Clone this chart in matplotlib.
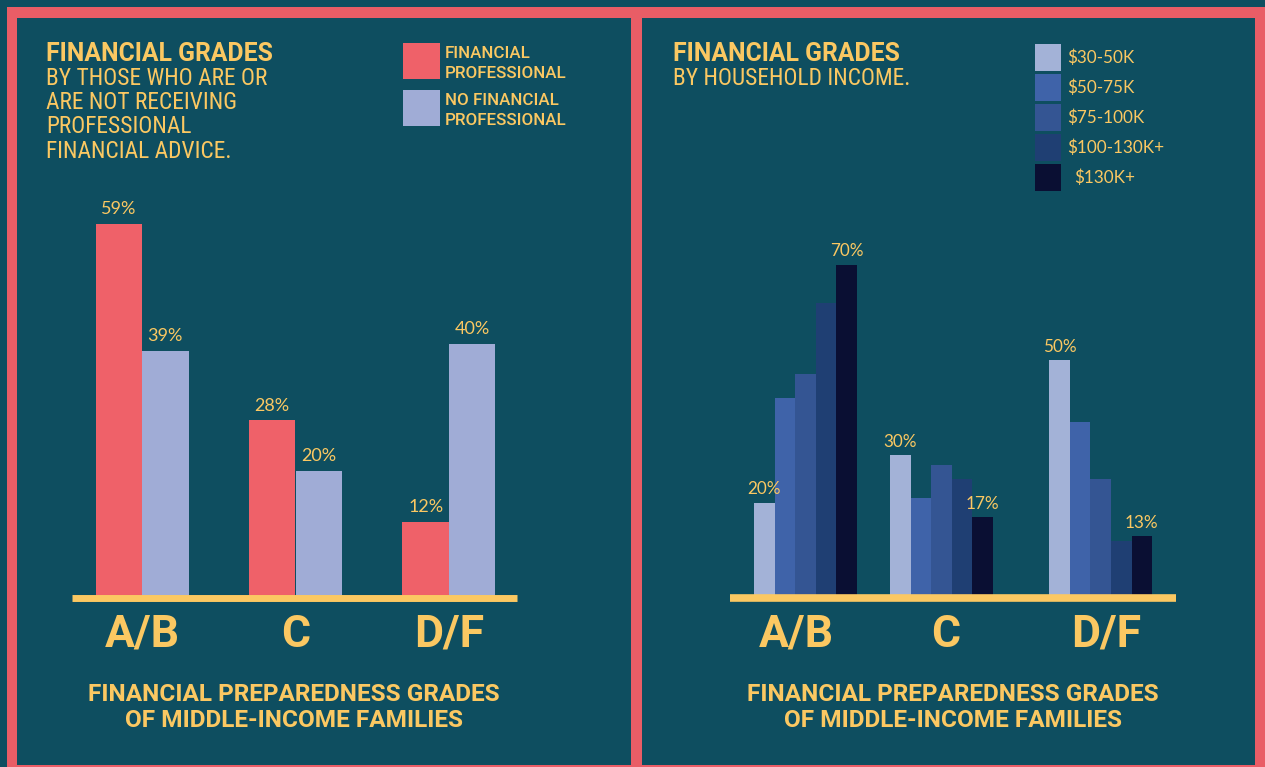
import matplotlib.pyplot as plt
import numpy as np
from matplotlib.patches import Rectangle

# data
grades = ["A/B", "C", "D/F"]
with_pro = [59, 28, 12]
no_pro = [39, 20, 40]
pro_labels = ["FINANCIAL\nPROFESSIONAL", "NO FINANCIAL\nPROFESSIONAL"]

income_groups = ["$30-50K", "$50-75K", "$75-100K", "$100-130K+", "$130K+"]
income_vals = [
    [20, 30, 50],  # $30-50K
    [42, 21, 37],  # $50-75K
    [47, 28, 25],  # $75-100K
    [62, 25, 12],  # $100-130K+
    [70, 17, 13],  # $130K+
]

# style
BG = "#0e4e60"
PINK = "#e95d66"
YELLOW = "#fbc862"
bar_pink = "#ef6169"
bar_lav = "#a0acd6"
income_colors = ["#a3b2d7", "#3f63a9", "#345593", "#1f3f73", "#0a0f33"]

ROUND = ["Lato", "DejaVu Sans"]
CK = dict(family=["Roboto Condensed", "DejaVu Sans"], fontstretch="condensed")
RB = dict(family=["Roboto", "DejaVu Sans"])

W, H = 1265, 767
fig = plt.figure(figsize=(W / 100, H / 100), dpi=100)
fig.patch.set_facecolor(BG)

# background axes in pixel coords for frame + titles
bg = fig.add_axes([0, 0, 1, 1])
bg.set_xlim(0, W)
bg.set_ylim(H, 0)
bg.axis("off")
for (x, y, w, h) in [(7, 7, W - 7, 11), (7, 7, 10, H - 7), (631, 7, 11, H - 7),
                     (1255, 7, 10, H - 7), (7, 765, W - 7, 2)]:
    bg.add_patch(Rectangle((x, y), w, h, color=PINK, lw=0))

# left header
bg.text(46, 61, "FINANCIAL GRADES", color=YELLOW, fontsize=17.8, fontweight="bold",
        va="baseline", **RB)
sub = ["BY THOSE WHO ARE OR", "ARE NOT RECEIVING", "PROFESSIONAL", "FINANCIAL ADVICE."]
for i, s in enumerate(sub):
    bg.text(46, 85 + i * 24.2, s, color=YELLOW, fontsize=16.8, va="baseline", **CK)

# left legend
for i, (lab, c) in enumerate(zip(pro_labels, [bar_pink, bar_lav])):
    y0 = 43 + i * 47
    bg.add_patch(Rectangle((403, y0), 37, 36, color=c, lw=0))
    l1, l2 = lab.split("\n")
    bg.text(445, y0 + 15, l1, color=YELLOW, fontsize=12.2, fontweight="medium",
            va="baseline", **RB)
    bg.text(445, y0 + 35, l2, color=YELLOW, fontsize=12.2, fontweight="medium",
            va="baseline", **RB)

# right header
bg.text(673, 61, "FINANCIAL GRADES", color=YELLOW, fontsize=17.8, fontweight="bold",
        va="baseline", **RB)
bg.text(673, 85, "BY HOUSEHOLD INCOME.", color=YELLOW, fontsize=16.8, va="baseline", **CK)

# right legend
for i, (lab, c) in enumerate(zip(income_groups, income_colors)):
    y0 = 44 + i * 30
    bg.add_patch(Rectangle((1035, y0), 26, 27, color=c, lw=0))
    tx = 1074 if i == len(income_groups) - 1 else 1067
    bg.text(tx, y0 + 14, lab, color=YELLOW, fontsize=12.3, family=ROUND, va="center")

# bottom captions
for cx in (294, 953):
    bg.text(cx, 700.7, "FINANCIAL PREPAREDNESS GRADES", color=YELLOW, fontsize=17.6,
            fontweight="bold", ha="center", va="baseline", **RB)
    bg.text(cx, 727, "OF MIDDLE-INCOME FAMILIES", color=YELLOW, fontsize=17.6,
            fontweight="bold", ha="center", va="baseline", **RB)


def make_axes(x0, x1, y_base, top_px):
    ax = fig.add_axes([x0 / W, (H - y_base) / H, (x1 - x0) / W, (y_base - top_px) / H])
    ax.set_facecolor("none")
    ax.axis("off")
    return ax


# left chart: 6.34 px per %, group spacing 153.5 px
axL = make_axes(72, 517, 598, 150)
axL.set_ylim(0, 448 / 6.34)
axL.set_xlim((72 - 142) / 153.5, (517 - 142) / 153.5)
x = np.arange(len(grades))
bw = 46.5 / 153.5
b1 = axL.bar(x - bw / 2, with_pro, bw, color=bar_pink, lw=0)
b2 = axL.bar(x + bw / 2, no_pro, bw, color=bar_lav, lw=0)
for bars, vals in ((b1, with_pro), (b2, no_pro)):
    for r, v in zip(bars, vals):
        axL.annotate(f"{v}%", (r.get_x() + r.get_width() / 2, v), xytext=(0, 5),
                     textcoords="offset points", ha="center", va="bottom",
                     color=YELLOW, fontsize=13, family=ROUND)
axL.axhline(0, color=YELLOW, lw=5, clip_on=False, zorder=5, solid_capstyle="butt")
for xi, g in zip(x, grades):
    axL.annotate(g, (xi, 0), xytext=(0, -48.7 * 0.72), textcoords="offset points",
                 ha="center", va="baseline", color=YELLOW, fontsize=32,
                 fontweight="bold", **RB)

# right chart: 4.76 px per %, unit = 136 px
axR = make_axes(730, 1176, 598.2, 150)
axR.set_ylim(0, 448.2 / 4.76)
axR.set_xlim((730 - 805.5) / 136, (1176 - 805.5) / 136)
gx = np.array([0.0, 1.0, 2.17])
bw = 20.6 / 136
n = len(income_groups)
for i, (vals, c) in enumerate(zip(income_vals, income_colors)):
    bars = axR.bar(gx + (i - (n - 1) / 2) * bw, vals, bw, color=c, lw=0)
    if i in (0, n - 1):
        for r, v in zip(bars, vals):
            axR.annotate(f"{v}%", (r.get_x() + r.get_width() / 2, v), xytext=(0, 4),
                         textcoords="offset points", ha="center", va="bottom",
                         color=YELLOW, fontsize=12.3, family=ROUND)
axR.axhline(0, color=YELLOW, lw=5.5, clip_on=False, zorder=5, solid_capstyle="butt")
for xi, g, dx in zip(gx, grades, [-9, 4, 6]):
    axR.annotate(g, (xi, 0), xytext=(dx * 0.72, -48.7 * 0.72), textcoords="offset points",
                 ha="center", va="baseline", color=YELLOW, fontsize=32,
                 fontweight="bold", **RB)

fig.savefig("out.png", dpi=100, facecolor=BG)
